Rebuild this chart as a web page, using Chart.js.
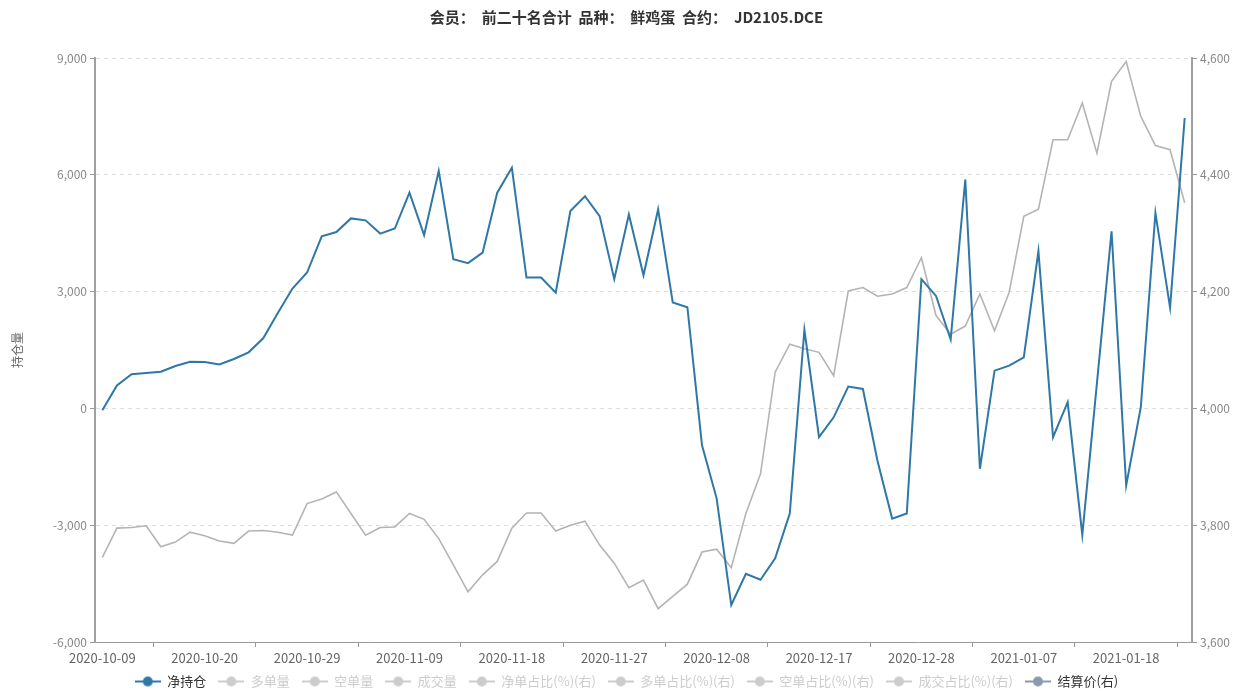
<!DOCTYPE html>
<html>
<head>
<meta charset="utf-8">
<script src="https://cdn.jsdelivr.net/npm/chart.js@4.4.1/dist/chart.umd.min.js"></script>
<style>
  html, body { margin: 0; padding: 0; background: #fff; }
  #wrap { width: 1253px; height: 691px; position: relative; }
</style>
</head>
<body>
<div id="wrap"><canvas id="canvas"></canvas></div>
<script>
// trading days (x axis categories)
var dates = [
  '2020-10-09','2020-10-12','2020-10-13','2020-10-14','2020-10-15','2020-10-16',
  '2020-10-19','2020-10-20','2020-10-21','2020-10-22','2020-10-23',
  '2020-10-26','2020-10-27','2020-10-28','2020-10-29','2020-10-30',
  '2020-11-02','2020-11-03','2020-11-04','2020-11-05','2020-11-06',
  '2020-11-09','2020-11-10','2020-11-11','2020-11-12','2020-11-13',
  '2020-11-16','2020-11-17','2020-11-18','2020-11-19','2020-11-20',
  '2020-11-23','2020-11-24','2020-11-25','2020-11-26','2020-11-27','2020-11-30',
  '2020-12-01','2020-12-02','2020-12-03','2020-12-04',
  '2020-12-07','2020-12-08','2020-12-09','2020-12-10','2020-12-11',
  '2020-12-14','2020-12-15','2020-12-16','2020-12-17','2020-12-18',
  '2020-12-21','2020-12-22','2020-12-23','2020-12-24','2020-12-25',
  '2020-12-28','2020-12-29','2020-12-30','2020-12-31',
  '2021-01-04','2021-01-05','2021-01-06','2021-01-07','2021-01-08',
  '2021-01-11','2021-01-12','2021-01-13','2021-01-14','2021-01-15',
  '2021-01-18','2021-01-19','2021-01-20','2021-01-21','2021-01-22'
];

// 净持仓 (left axis)
var netPos = [
  -50, 590, 880, 910, 940, 1090, 1200, 1190, 1130, 1270,
  1440, 1800, 2450, 3080, 3490, 4420, 4530, 4880, 4830, 4490,
  4620, 5540, 4450, 6100, 3830, 3730, 4000, 5540, 6180, 3360,
  3360, 2970, 5070, 5450, 4940, 3320, 4980, 3420, 5110, 2720,
  2600, -950, -2310, -5050, -4250, -4400, -3850, -2700, 2020, -740,
  -230, 560, 500, -1350, -2830, -2700, 3320, 2890, 1770, 5880,
  -1550, 970, 1100, 1310, 4040, -740, 160, -3250, 650, 4550,
  -1980, 30, 5020, 2590, 7460
];

// 结算价 (right axis)
var settle = [
  3745, 3795, 3796, 3799, 3763, 3771, 3788, 3782, 3773, 3769,
  3790, 3791, 3788, 3783, 3837, 3845, 3857, 3820, 3783, 3796,
  3797, 3820, 3810, 3777, 3732, 3686, 3715, 3738, 3795, 3821,
  3821, 3790, 3800, 3807, 3766, 3735, 3693, 3706, 3657, 3678,
  3699, 3754, 3759, 3727, 3820, 3888, 4062, 4110, 4102, 4096,
  4056, 4201, 4207, 4192, 4196, 4207, 4258, 4159, 4127, 4141,
  4196, 4133, 4199, 4329, 4341, 4460, 4460, 4523, 4437, 4560,
  4594, 4500, 4450, 4443, 4352
];

// legend names, the hidden ones have no data shown
var seriesNames = ['净持仓', '多单量', '空单量', '成交量', '净单占比(%)(右)', '多单占比(%)(右)', '空单占比(%)(右)', '成交占比(%)(右)', '结算价(右)'];
var leftTicks = [-6000, -3000, 0, 3000, 6000, 9000];
var rightTicks = [3600, 3800, 4000, 4200, 4400, 4600];
var labelEvery = 7;

var FONT = "'Noto Sans CJK SC', 'Noto Sans', sans-serif";
var blue = '#2f78a6';
var grey = '#b4b4b4';
var offColor = '#cccccc';

// legend icon: short line with a dot in the middle
function makeIcon(color) {
  var c = document.createElement('canvas');
  c.width = 26; c.height = 14;
  var g = c.getContext('2d');
  g.strokeStyle = color; g.lineWidth = 2;
  g.beginPath(); g.moveTo(0, 7); g.lineTo(26, 7); g.stroke();
  g.fillStyle = color;
  g.beginPath(); g.arc(13, 7, 5, 0, Math.PI * 2); g.fill();
  return c;
}

var datasets = seriesNames.map(function (name, i) {
  var ds = { label: name, data: [], hidden: true, yAxisID: 'y', borderColor: offColor, pointRadius: 0 };
  if (i === 0) {
    ds = { label: name, data: netPos, yAxisID: 'y', borderColor: blue, backgroundColor: blue,
           borderWidth: 2, pointRadius: 0, tension: 0, iconColor: blue, textColor: '#333' };
  } else if (i === seriesNames.length - 1) {
    ds = { label: name, data: settle, yAxisID: 'y1', borderColor: grey, backgroundColor: grey,
           borderWidth: 1.6, pointRadius: 0, tension: 0, iconColor: '#8b9aab', textColor: '#333' };
  }
  return ds;
});

new Chart(document.getElementById('canvas'), {
  type: 'line',
  data: { labels: dates, datasets: datasets },
  options: {
    responsive: true,
    maintainAspectRatio: false,
    animation: false,
    layout: { padding: { left: 0, right: 0, top: 0, bottom: -7 } },
    plugins: {
      tooltip: { enabled: false },
      title: {
        display: true,
        text: '会员：  前二十名合计  品种：  鲜鸡蛋  合约：  JD2105.DCE',
        color: '#333',
        font: { family: FONT, size: 15, weight: 'bold' },
        padding: { top: 8, bottom: 32 }
      },
      legend: {
        position: 'bottom',
        labels: {
          usePointStyle: true,
          pointStyleWidth: 26,
          padding: 12,
          font: { family: FONT, size: 13 },
          generateLabels: function (chart) {
            return chart.data.datasets.map(function (ds, i) {
              var on = !!ds.iconColor;
              return {
                text: ds.label,
                datasetIndex: i,
                hidden: false,
                lineWidth: 0,
                fillStyle: on ? ds.iconColor : offColor,
                strokeStyle: on ? ds.iconColor : offColor,
                fontColor: on ? ds.textColor : offColor,
                pointStyle: makeIcon(on ? ds.iconColor : offColor)
              };
            });
          }
        },
        onClick: function () {}
      }
    },
    scales: {
      x: {
        type: 'category',
        offset: true,
        grid: {
          display: true,
          drawOnChartArea: false,
          offset: true,
          tickLength: 5,
          tickColor: function (ctx) { return ctx.index % labelEvery === 4 ? '#999' : 'rgba(0,0,0,0)'; }
        },
        border: { display: true, color: '#999', width: 1 },
        afterFit: function (s) { s.height = 21; },
        ticks: {
          autoSkip: false,
          maxRotation: 0,
          padding: 3,
          color: '#666',
          font: { family: FONT, size: 13 },
          callback: function (v, i) { return i % labelEvery === 0 ? dates[i] : ''; }
        }
      },
      y: {
        position: 'left',
        min: leftTicks[0],
        max: leftTicks[leftTicks.length - 1],
        afterFit: function (s) { s.width = 95; },
        afterBuildTicks: function (s) { s.ticks = leftTicks.map(function (v) { return { value: v }; }); },
        title: {
          display: true,
          text: '持仓量',
          color: '#666',
          font: { family: FONT, size: 12 },
          padding: { top: 10, bottom: 0 }
        },
        grid: { color: '#dddddd', lineWidth: 1, tickColor: '#999', tickLength: 5 },
        border: { display: true, color: '#a0a0a0', width: 2, dash: [4, 4] },
        ticks: {
          color: '#888',
          padding: 3,
          font: { family: FONT, size: 12 },
          callback: function (v) { return v.toLocaleString('en-US'); }
        }
      },
      y1: {
        position: 'right',
        min: rightTicks[0],
        max: rightTicks[rightTicks.length - 1],
        afterFit: function (s) { s.width = 61; },
        afterBuildTicks: function (s) { s.ticks = rightTicks.map(function (v) { return { value: v }; }); },
        grid: { drawOnChartArea: false, tickColor: '#999', tickLength: 5 },
        border: { display: true, color: '#a0a0a0', width: 2 },
        ticks: {
          color: '#888',
          padding: 3,
          font: { family: FONT, size: 12 },
          callback: function (v) { return v.toLocaleString('en-US'); }
        }
      }
    }
  }
});
</script>
</body>
</html>
